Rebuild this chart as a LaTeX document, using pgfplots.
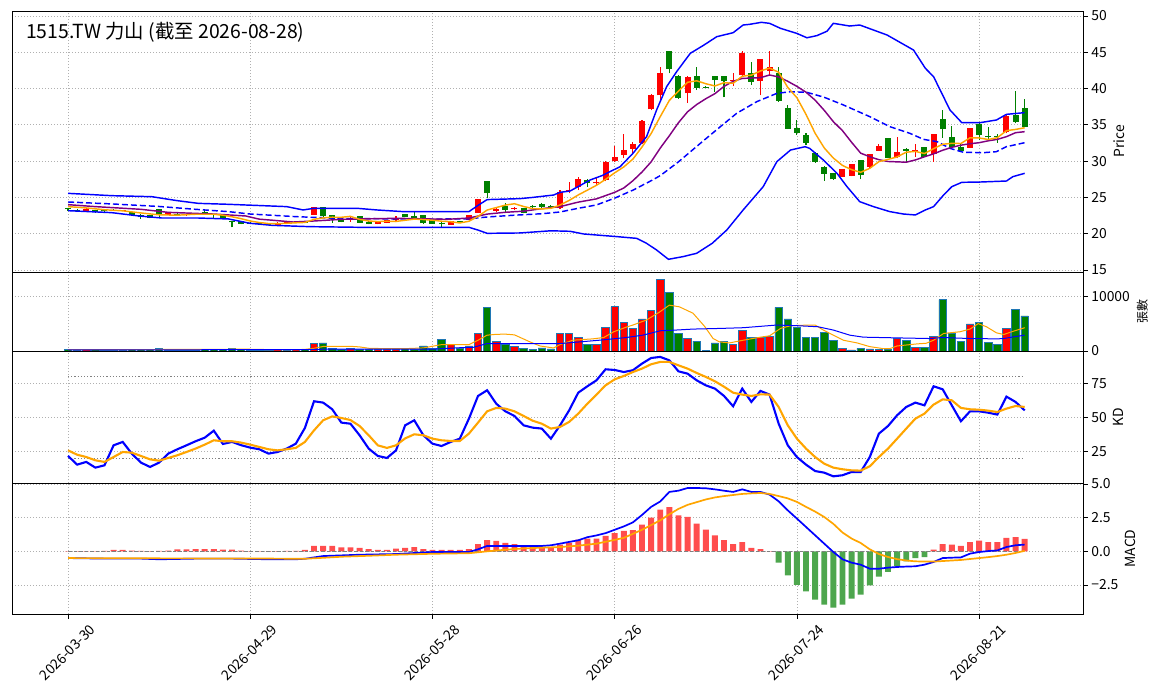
\documentclass[border=0pt]{standalone}
\usepackage{fontspec}
\setmainfont{Noto Sans CJK TC}
\usepackage{pgfplots}
\pgfplotsset{compat=1.18}
\usepackage{pgfplotstable}
\definecolor{cred}{HTML}{FF0000}
\definecolor{cgreen}{HTML}{008000}
\definecolor{hred}{HTML}{FF4D4D}
\definecolor{hgreen}{HTML}{4DA64D}
\definecolor{edgeb}{HTML}{1F77B4}
\definecolor{morange}{HTML}{FFA500}
\definecolor{mpurple}{HTML}{800080}
\definecolor{gridc}{HTML}{B0B0B0}

\pgfplotstableread{
i o h l c v
2 23.13 23.50 23.10 23.45 220
6 23.13 23.30 23.10 23.22 160
11 22.62 22.90 22.55 22.81 200
13 22.58 22.75 22.50 22.67 150
14 22.62 22.72 22.55 22.67 140
23 21.11 21.60 21.05 21.52 260
24 21.43 21.65 21.40 21.61 200
25 21.61 21.70 21.55 21.66 300
27 22.62 23.70 22.60 23.63 1300
31 21.98 22.35 21.66 22.16 400
34 21.38 21.75 21.30 21.70 280
35 21.52 21.90 21.45 21.84 300
36 21.84 22.44 21.57 22.03 320
42 21.24 21.75 21.20 21.70 1170
44 21.89 22.62 21.85 22.58 925
45 22.90 24.85 22.85 24.78 3270
47 23.17 23.60 23.00 23.40 1790
49 23.36 23.70 23.20 23.54 860
54 23.50 26.00 23.40 25.79 3270
55 25.84 27.17 25.56 26.02 3270
56 26.39 27.86 26.00 27.49 2400
58 26.94 27.63 26.71 27.12 1170
59 27.40 30.00 27.20 29.88 4380
60 30.06 32.08 29.93 30.52 8080
61 30.85 33.74 30.39 31.53 5300
62 31.72 32.68 31.07 32.36 4200
63 32.54 35.60 32.40 35.48 5860
64 37.14 39.20 37.00 39.11 7340
65 39.07 42.93 38.19 42.19 13080
68 39.34 41.70 38.06 41.59 2280
73 41.09 42.10 40.35 41.18 1230
74 41.87 45.13 41.80 44.95 3830
76 41.09 44.10 39.07 44.07 2530
77 42.47 45.13 41.87 42.93 2710
85 27.86 28.90 27.80 28.87 490
86 28.00 29.60 27.90 29.56 185
88 29.24 31.00 29.10 30.98 370
89 31.44 32.31 31.40 32.09 250
91 30.52 33.33 30.39 31.26 2340
93 31.30 32.31 30.62 31.53 620
95 30.98 33.80 29.93 33.74 2710
99 31.86 34.60 31.80 34.57 4940
103 34.06 36.40 33.83 36.27 4200
}\up

\pgfplotstableread{
i o h l c v
0 23.54 23.60 23.17 23.36 250
1 23.31 23.40 23.00 23.13 200
3 23.27 23.30 22.90 22.99 250
4 23.22 23.30 22.90 23.13 180
5 23.31 23.35 23.15 23.22 150
7 22.99 23.00 22.50 22.58 300
8 22.62 22.65 22.07 22.26 280
9 22.58 22.60 22.10 22.21 260
10 23.36 23.45 22.35 22.71 500
12 22.71 22.80 22.50 22.62 150
15 22.99 23.45 22.62 22.81 250
16 22.67 22.70 21.98 22.58 220
17 22.58 22.60 22.00 22.03 280
18 21.70 21.80 20.88 21.57 500
19 21.70 21.75 21.30 21.34 300
20 21.52 21.60 21.35 21.43 200
21 21.43 21.50 21.30 21.34 180
22 21.43 21.50 21.20 21.24 200
26 21.61 21.65 21.45 21.50 250
28 23.63 23.70 22.12 22.49 1480
29 22.53 22.60 21.52 22.07 430
30 22.07 22.10 21.55 21.61 300
32 22.44 22.50 21.45 21.52 350
33 21.66 21.70 21.30 21.38 250
37 22.71 22.75 22.25 22.30 450
38 22.44 23.08 22.10 22.16 380
39 22.58 22.60 21.40 21.43 925
40 21.93 21.95 21.35 21.38 400
41 21.52 21.55 20.79 21.29 2160
43 21.70 21.80 21.50 21.61 555
46 27.26 27.30 24.87 25.65 7960
48 23.77 24.20 23.04 23.27 1170
50 23.50 23.60 22.80 22.90 490
51 23.80 24.00 23.50 23.70 310
52 24.05 24.20 23.50 23.63 555
53 23.85 24.00 23.60 23.75 370
57 27.45 27.60 26.48 26.94 1170
66 45.18 45.20 42.10 42.70 10670
67 41.73 41.90 38.60 38.75 3150
69 41.73 42.93 39.80 40.12 1790
70 40.24 40.30 40.10 40.16 60
71 41.73 41.80 39.57 41.18 1480
72 41.73 41.80 38.79 41.00 1790
75 42.10 43.71 40.49 40.95 2530
78 42.10 43.02 38.20 38.33 7960
79 37.32 37.74 34.40 34.47 5860
80 34.57 35.67 33.60 33.92 4260
81 33.60 33.83 32.22 32.54 2530
82 31.07 31.20 29.80 29.93 2530
83 29.15 29.30 27.31 28.23 3330
84 28.32 28.40 27.40 27.49 1970
87 30.16 30.20 27.49 28.14 490
90 33.19 33.20 30.40 30.43 310
92 31.67 31.80 29.93 31.40 1970
94 31.95 32.00 30.60 30.62 620
96 35.81 37.05 33.23 34.38 9380
97 33.33 34.80 31.90 31.99 3270
98 31.99 32.45 31.40 31.44 1790
100 35.12 35.20 32.91 33.60 5300
101 33.46 34.66 32.91 33.28 1600
102 33.46 33.74 32.54 33.28 1230
104 36.36 39.66 35.21 35.44 7530
105 37.28 38.52 34.70 34.75 6420
}\dn

\pgfplotsset{
  panel/.style={
    scale only axis, width=1071pt, anchor=south west,
    xmin=-6.15, xmax=111.4,
    xtick={0,20,40,60,80,100},
    xmajorgrids, ymajorgrids,
    grid style={dash pattern=on 1.1pt off 1.9pt, line width=0.8pt, color=gridc},
    ytick pos=right, yticklabel pos=right, ylabel near ticks,
    xtick pos=bottom,
    tick align=outside, major tick length=4.8pt,
    tick style={black, line width=0.8pt},
    axis line style={line width=0.8pt},
    ticklabel style={font=\fontsize{13.9}{15}\selectfont},
    label style={font=\fontsize{13.9}{15}\selectfont},
    /pgf/number format/assume math mode=true,
    scaled y ticks=false,
  },
  noxlab/.style={xticklabels={}, xtick style={draw=none}},
}

\begin{document}
\begin{tikzpicture}
\path[use as bounding box] (0pt,0pt) rectangle (1163pt,-699pt);

% ---------------- price ----------------
\begin{axis}[panel, noxlab, at={(12pt,-272pt)}, height=261pt,
  ymin=14.72, ymax=50.69, ytick={15,20,25,30,35,40,45,50}, ylabel={Price}]
\addplot[cred, line width=1.1pt, mark=none, quiver={u=0, v=\thisrow{h}-\thisrow{l}}] table[x=i, y=l] {\up};
\addplot[cgreen, line width=1.1pt, mark=none, quiver={u=0, v=\thisrow{h}-\thisrow{l}}] table[x=i, y=l] {\dn};
\addplot[cred, line width=6pt, mark=none, quiver={u=0, v=\thisrow{c}-\thisrow{o}}] table[x=i, y=o] {\up};
\addplot[cgreen, line width=6pt, mark=none, quiver={u=0, v=\thisrow{o}-\thisrow{c}}] table[x=i, y=c] {\dn};
% Bollinger upper
\addplot[blue, line width=1.45pt, mark=none] coordinates {
(0,25.56) (4.8,25.24) (9.2,25.1) (12,24.55) (14.3,24.18) (17.6,24.05) (21,23.88) (24,23.73) (25.8,23.27) (27,23.5) (31.7,23.5) (33.9,23.27) (36.8,23.04) (44,23.04) (45,23.9) (46,24.7) (49.6,24.83) (51,25.0) (53.3,25.33) (54,25.7) (55.1,25.88) (57.3,27.4) (58.6,28.0) (60.6,29.24) (62,31.07) (63.5,33.37) (64.6,37.05) (65.7,40.26) (66.8,42.33) (68.3,44.86) (69.8,46.0) (71.2,47.15) (73,47.7) (74.1,48.76) (74.8,48.85) (76.1,49.13) (77,48.99) (78.2,48.3) (80,47.6) (81.1,47.0) (82.2,47.3) (83.3,47.9) (84,48.99) (85.8,48.62) (86.9,48.76) (89.9,47.38) (92.8,45.31) (94.1,42.79) (95,41.64) (96.8,37.05) (98.1,35.3) (100.1,35.3) (101.9,35.67) (103,36.45) (105,36.68)};
% Bollinger lower
\addplot[blue, line width=1.45pt, mark=none] coordinates {
(0,23.17) (4.8,22.9) (7.8,22.44) (10.3,22.16) (14.3,22.16) (17.6,22.03) (20,21.43) (22.4,21.15) (26.5,20.97) (32,20.88) (44,20.88) (45,20.5) (46,20.05) (49.6,20.1) (53,20.4) (55.1,20.33) (56.6,19.96) (60.2,19.6) (62.4,19.36) (63.5,18.67) (64.6,17.75) (65.9,16.47) (67.5,16.84) (69,17.3) (70.7,18.67) (72.3,20.5) (74.1,23.27) (76.3,26.48) (77.8,29.93) (79.3,31.53) (80.9,31.99) (81.4,31.76) (82.9,30.16) (84.4,28.32) (85.5,26.48) (86.9,24.41) (88.4,23.73) (90.2,23.04) (91.7,22.71) (93,22.58) (94.1,23.27) (95,23.73) (96.1,25.33) (97,26.48) (98.1,27.08) (100.1,27.12) (103,27.26) (103.7,27.86) (105,28.32)};
% MA20
\addplot[blue, line width=1.45pt, mark=none, dash pattern=on 6pt off 3pt] coordinates {
(0,24.37) (5,24.09) (10,23.75) (14,23.36) (17.6,23.04) (20,22.71) (22.5,22.53) (25,22.35) (30,22.1) (35,22.05) (40,22.02) (44,22.05) (46,22.3) (49,22.55) (52,22.75) (54,22.99) (56,23.5) (58,23.96) (60,24.9) (62,26.0) (64,27.3) (65,28.0) (67,29.9) (69.4,32.45) (71.6,34.75) (73.4,36.6) (75.6,38.2) (77.8,39.34) (79.3,39.57) (81.1,39.48) (83,38.8) (85.1,37.74) (88,36.13) (90.2,34.75) (92.4,33.83) (93.9,33.0) (95.4,32.68) (96.8,31.76) (98.3,31.21) (100.5,31.17) (101.9,31.3) (103,31.99) (105,32.54)};
% MA10
\addplot[mpurple, line width=1.45pt, mark=none] coordinates {
(0,24.0) (3,23.73) (8,23.36) (11,22.94) (16,22.71) (19.5,22.44) (21,22.0) (22.5,21.85) (24.7,21.61) (27,21.75) (30,21.98) (33,22.05) (36,22.12) (39,22.05) (41.6,21.98) (44,22.16) (46,22.7) (48,22.95) (50,23.1) (52,23.45) (54,23.73) (56,24.35) (58,24.8) (60,25.7) (61,26.3) (62,27.3) (63,28.5) (64,29.9) (65,31.8) (66,33.5) (67,35.3) (68,36.8) (69,37.8) (70,38.6) (71,39.3) (72,40.3) (73,41.0) (74,41.4) (75,41.45) (76,41.5) (77,41.87) (78,41.6) (79,41.0) (80,40.3) (81,39.5) (82,38.4) (83,37.0) (84,35.44) (85,34.2) (86,32.6) (87,31.1) (88,30.6) (89,30.2) (90,29.95) (91,29.9) (92,29.85) (93,30.16) (94,30.6) (95,31.0) (96,31.5) (97,31.9) (98,32.2) (99,32.4) (100,32.54) (101,32.8) (102,33.0) (103,33.37) (104,33.92) (105,34.06)};
% MA5
\addplot[morange, line width=1.45pt, mark=none] coordinates {
(0,23.73) (2,23.55) (4,23.30) (6,23.15) (8,22.86) (10,22.60) (12,22.55) (14,22.68) (16,22.68) (17,22.55) (18,22.33) (19,22.07) (20,21.75) (21,21.54) (22,21.40) (23,21.38) (24,21.43) (25,21.50) (26,21.55) (27,21.98) (28,22.18) (29,22.27) (30,22.26) (31,22.39) (32,21.97) (33,21.75) (34,21.67) (35,21.72) (36,21.69) (37,21.85) (38,22.01) (39,21.95) (40,21.86) (41,21.72) (42,21.65) (43,21.48) (44,21.71) (45,22.39) (46,23.26) (47,23.60) (48,23.94) (49,24.13) (50,23.75) (51,23.45) (52,23.41) (53,23.50) (54,23.95) (55,24.58) (56,25.34) (57,26.0) (58,26.67) (59,27.49) (60,28.39) (61,29.2) (62,30.28) (63,31.95) (64,33.8) (65,36.13) (66,38.37) (67,39.65) (68,40.87) (69,41.07) (70,40.67) (71,40.36) (72,40.81) (73,40.73) (74,41.7) (75,41.85) (76,42.43) (77,42.82) (78,42.25) (79,40.15) (80,38.74) (81,36.44) (82,33.84) (83,31.82) (84,30.42) (85,29.41) (86,28.82) (87,28.46) (88,29.01) (89,29.93) (90,30.24) (91,30.58) (92,31.23) (93,31.34) (94,31.05) (95,31.71) (96,32.33) (97,32.45) (98,32.43) (99,33.22) (100,33.20) (101,32.98) (102,33.23) (103,34.2) (104,34.37) (105,34.6)};
\node[anchor=west, font=\fontsize{19.4}{21}\selectfont, inner sep=0pt] at (rel axis cs:0.013,0.92) {1515.TW 力山 (截至 2026-08-28)};
\end{axis}

% ---------------- volume ----------------
\begin{axis}[panel, noxlab, at={(12pt,-351pt)}, height=79pt,
  ymin=0, ymax=14450, ytick={0,10000}, yticklabels={0,10000},
  ylabel={張數}, ylabel style={font=\fontsize{12}{13}\selectfont}]
\addplot[ybar, bar width=0.82, bar shift=0pt, fill=cred, draw=edgeb, line width=0.8pt] table[x=i, y=v] {\up};
\addplot[ybar, bar width=0.82, bar shift=0pt, fill=cgreen, draw=edgeb, line width=0.8pt] table[x=i, y=v] {\dn};
\addplot[morange, line width=1pt, mark=none] coordinates {
(0,250) (4,230) (9,260) (12,300) (16,280) (19,350) (22,260) (25,230) (26,300) (27,500) (28,830) (30,860) (31,860) (32,750) (33,500) (35,420) (37,430) (39,560) (41,1170) (44,1170) (45,1970) (46,2900) (47,3050) (48,3085) (49,2950) (50.7,1670) (51.8,925) (53.3,555) (54,1170) (55.4,1970) (57.6,2220) (58.8,2470) (59.9,3520) (61.3,4380) (62,4750) (63.5,5680) (64.9,7100) (66,8390) (67.1,8080) (68.6,6910) (69.9,4440) (70.8,2280) (71.5,1670) (72.6,1480) (74.1,1970) (76,2530) (77,2780) (78.2,4130) (79.3,4630) (81.4,4750) (82,4750) (82.9,3830) (84,2900) (85.1,1970) (86.6,1480) (88,800) (89.5,430) (90.2,430) (91,925) (93.2,1300) (94.2,1420) (95,1970) (96.1,3210) (97.9,3520) (99,4010) (99.9,5000) (100.8,4440) (101.9,3330) (102.7,3020) (103.8,3640) (105,4260)};
\addplot[blue, line width=1pt, mark=none] coordinates {
(0,200) (15,230) (26,260) (28,330) (32,330) (40,330) (43,600) (44.5,680) (46,1360) (54,1360) (56.2,1670) (58.3,1970) (61.3,2470) (63.1,2900) (65,3700) (66.7,3830) (68.6,4010) (71.6,4130) (74.1,4260) (77.8,4750) (80,4630) (82.3,4440) (84,3830) (85.8,2900) (87.3,2530) (91,2400) (94.6,2280) (96,2470) (99,2280) (102,2220) (102.7,2280) (103.8,2590) (105,2900)};
\end{axis}

% ---------------- KD ----------------
\begin{axis}[panel, noxlab, at={(12pt,-483pt)}, height=132pt,
  ymin=1.7, ymax=98.75, ytick={25,50,75}, ylabel={KD}]
\addplot[gray, line width=0.9pt, dash pattern=on 1.2pt off 2pt, mark=none] coordinates {(0,80) (105,80)};
\addplot[gray, line width=0.9pt, dash pattern=on 1.2pt off 2pt, mark=none] coordinates {(0,20) (105,20)};
\addplot[blue, line width=2.1pt, mark=none] coordinates {
(0,21.6)(1,15.2)(2,17.2)(3,13.0)(4,14.7)(5,29.4)(6,31.9)(7,23.3)(8,16.7)(9,13.5)(10,16.7)(11,23.3)(12,26.5)(13,29.4)(14,32.4)(15,35.0)(16,40.2)(17,30.4)(18,31.9)(19,29.5)(20,27.7)(21,26.5)(22,23.3)(23,24.5)(24,27.0)(25,30.6)(26,42.2)(27,61.8)(28,60.8)(29,55.9)(30,46.1)(31,45.3)(32,36.8)(33,27.0)(34,21.6)(35,20.1)(36,25.7)(37,44.1)(38,47.8)(39,36.8)(40,30.6)(41,28.9)(42,31.9)(43,34.3)(44,49.0)(45,65.7)(46,69.9)(47,60.0)(48,54.4)(49,51.0)(50,44.1)(51,42.4)(52,41.7)(53,34.3)(54,44.1)(55,55.1)(56,68.1)(57,72.8)(58,77.2)(59,85.3)(60,84.8)(61,83.3)(62,84.6)(63,89.5)(64,93.6)(65,94.4)(66,91.9)(67,83.8)(68,82.1)(69,77.2)(70,73.5)(71,71.1)(72,65.7)(73,58.1)(74,71.1)(75,61.3)(76,69.4)(77,66.7)(78,45.3)(79,29.4)(80,20.8)(81,15.2)(82,10.5)(83,9.3)(84,6.6)(85,7.4)(86,9.8)(87,9.8)(88,20.8)(89,38.0)(90,43.6)(91,51.5)(92,57.6)(93,60.8)(94,58.8)(95,72.8)(96,70.6)(97,58.8)(98,47.1)(99,54.4)(100,54.4)(101,53.4)(102,52.0)(103,65.2)(104,61.3)(105,55.1)};
\addplot[morange, line width=2.1pt, mark=none] coordinates {
(0,25.7)(1,22.5)(2,20.8)(3,18.4)(4,17.2)(5,20.8)(6,24.5)(7,24.0)(8,21.6)(9,19.1)(10,18.1)(11,20.1)(12,22.1)(13,24.5)(14,27.0)(15,29.9)(16,33.1)(17,32.4)(18,32.4)(19,31.4)(20,29.9)(21,28.2)(22,26.5)(23,25.7)(24,26.5)(25,27.5)(26,31.9)(27,40.4)(28,47.8)(29,50.7)(30,49.5)(31,48.0)(32,43.6)(33,36.8)(34,29.4)(35,27.5)(36,29.4)(37,34.5)(38,37.5)(39,36.8)(40,34.3)(41,33.1)(42,32.6)(43,32.6)(44,38.0)(45,46.1)(46,54.4)(47,56.9)(48,56.4)(49,54.4)(50,51.0)(51,47.5)(52,45.3)(53,41.7)(54,42.9)(55,46.6)(56,52.7)(57,60.0)(58,66.7)(59,73.5)(60,77.9)(61,80.4)(62,83.3)(63,85.8)(64,89.0)(65,90.7)(66,90.7)(67,88.2)(68,85.8)(69,82.6)(70,79.7)(71,76.5)(72,72.5)(73,68.1)(74,66.7)(75,65.7)(76,66.9)(77,66.7)(78,57.6)(79,44.1)(80,34.3)(81,27.0)(82,20.8)(83,15.9)(84,13.0)(85,11.8)(86,11.0)(87,10.8)(88,14.0)(89,20.8)(90,27.0)(91,34.3)(92,41.7)(93,49.0)(94,52.7)(95,59.3)(96,63.2)(97,62.5)(98,56.9)(99,55.9)(100,55.6)(101,54.9)(102,53.9)(103,56.4)(104,58.3)(105,57.6)};
\end{axis}

% ---------------- MACD ----------------
\begin{axis}[panel, at={(12pt,-614pt)}, height=131pt,
  ymin=-4.65, ymax=5.07, ytick={-2.5,0,2.5,5}, yticklabels={−2.5,0.0,2.5,5.0},
  ylabel={MACD},
  xticklabels={2026-03-30,2026-04-29,2026-05-28,2026-06-26,2026-07-24,2026-08-21},
  xticklabel style={rotate=45, anchor=north east, xshift=14.85pt, yshift=-14.85pt}]
\addplot[ybar, bar width=0.65, bar shift=0pt, fill=hred, draw=none] coordinates {
(0,0.01)(1,0.01)(2,0.02)(3,0.02)(4,0.04)(5,0.10)(6,0.10)(7,0.05)(8,0.03)(9,0.02)(10,0.03)(11,0.05)(12,0.15)(13,0.15)(14,0.17)(15,0.17)(16,0.17)(17,0.12)(18,0.12)(19,0.05)(20,0.02)(21,0.02)(22,0.02)(23,0.02)(24,0.03)(25,0.03)(26,0.10)(27,0.40)(28,0.40)(29,0.40)(30,0.30)(31,0.30)(32,0.25)(33,0.17)(34,0.10)(35,0.10)(36,0.20)(37,0.25)(38,0.32)(39,0.17)(40,0.10)(41,0.10)(42,0.10)(43,0.10)(44,0.17)(45,0.54)(46,0.84)(47,0.77)(48,0.62)(49,0.54)(50,0.40)(51,0.32)(52,0.32)(53,0.32)(54,0.50)(55,0.64)(56,0.87)(57,0.94)(58,0.94)(59,1.14)(60,1.36)(61,1.51)(62,1.58)(63,1.98)(64,2.50)(65,3.09)(66,3.29)(67,2.67)(68,2.55)(69,2.05)(70,1.61)(71,1.19)(72,0.84)(73,0.54)(74,0.69)(75,0.25)(76,0.17)(77,0.02)(95,0.12)(96,0.54)(97,0.50)(98,0.40)(99,0.69)(100,0.79)(101,0.69)(102,0.69)(103,0.99)(104,1.06)(105,0.92)};
\addplot[ybar, bar width=0.65, bar shift=0pt, fill=hgreen, draw=none] coordinates {
(78,-0.84)(79,-1.78)(80,-2.48)(81,-2.97)(82,-3.59)(83,-3.96)(84,-4.18)(85,-3.96)(86,-3.51)(87,-3.22)(88,-2.52)(89,-1.88)(90,-1.53)(91,-1.09)(92,-0.74)(93,-0.50)(94,-0.42)};
\addplot[gray, line width=0.9pt, dash pattern=on 3.5pt off 2pt, mark=none] coordinates {(0,0) (105,0)};
\addplot[blue, line width=1.7pt, mark=none] coordinates {
(0,-0.50)(4,-0.54)(8,-0.54)(10,-0.59)(14,-0.54)(18,-0.54)(22,-0.59)(25,-0.59)(26,-0.55)(27,-0.45)(28,-0.35)(30,-0.30)(32,-0.25)(36,-0.20)(40,-0.05)(44,-0.05)(45,0.15)(46,0.40)(52,0.40)(53,0.45)(54,0.57)(55,0.70)(56,0.82)(57,1.05)(58,1.18)(59,1.35)(60,1.60)(61,1.85)(62,2.15)(63,2.70)(64,3.30)(65,3.70)(66,4.41)(67,4.50)(68,4.70)(69,4.70)(70,4.68)(71,4.60)(72,4.50)(73,4.41)(74,4.60)(75,4.41)(76,4.41)(77,4.21)(78,3.71)(79,3.04)(80,2.43)(81,1.81)(82,1.19)(83,0.57)(84,-0.05)(85,-0.59)(86,-0.84)(87,-0.99)(88,-1.29)(89,-1.29)(90,-1.21)(91,-1.16)(92,-1.13)(93,-1.11)(94,-0.99)(95,-0.79)(96,-0.50)(97,-0.47)(98,-0.45)(99,-0.17)(100,-0.05)(101,0.02)(102,0.07)(103,0.32)(104,0.45)(105,0.50)};
\addplot[morange, line width=1.7pt, mark=none] coordinates {
(0,-0.50)(10,-0.52)(20,-0.53)(26,-0.55)(28,-0.48)(30,-0.40)(33,-0.33)(36,-0.25)(40,-0.18)(44,-0.14)(46,0.0)(48,0.12)(50,0.22)(52,0.27)(54,0.32)(56,0.42)(58,0.57)(60,0.85)(61,1.0)(62,1.30)(63,1.60)(64,1.95)(65,2.30)(66,2.75)(67,3.15)(68,3.45)(69,3.65)(70,3.85)(71,4.00)(72,4.10)(73,4.18)(74,4.26)(75,4.30)(76,4.33)(77,4.26)(78,4.10)(79,3.93)(80,3.67)(81,3.30)(82,2.95)(83,2.55)(84,2.04)(85,1.40)(86,0.95)(87,0.62)(88,0.15)(89,-0.2)(90,-0.42)(91,-0.58)(92,-0.68)(93,-0.74)(94,-0.76)(95,-0.76)(96,-0.72)(97,-0.68)(98,-0.64)(99,-0.57)(100,-0.50)(101,-0.43)(102,-0.35)(103,-0.25)(104,-0.12)(105,0.04)};
\end{axis}
\end{tikzpicture}
\end{document}
